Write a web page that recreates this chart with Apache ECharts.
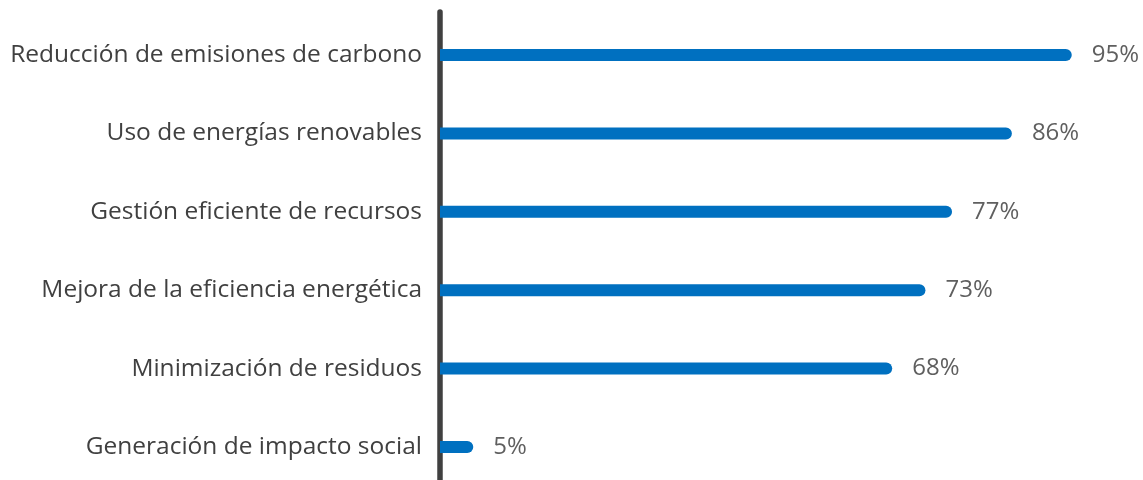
<!DOCTYPE html>
<html>
<head>
<meta charset="utf-8">
<script src="https://cdn.jsdelivr.net/npm/echarts@6/dist/echarts.min.js"></script>
<style>
  html, body { margin: 0; padding: 0; background: #ffffff; }
  #chart { width: 1143px; height: 480px; }
</style>
</head>
<body>
<div id="chart"></div>
<script>
// Sustainability priorities, share of respondents (%)
const categories = [
  'Reducción de emisiones de carbono',
  'Uso de energías renovables',
  'Gestión eficiente de recursos',
  'Mejora de la eficiencia energética',
  'Minimización de residuos',
  'Generación de impacto social'
];
const values = [95, 86, 77, 73, 68, 5];

const FONT = '"Open Sans", "Noto Sans", sans-serif';
const chart = echarts.init(document.getElementById('chart'), null, { renderer: 'canvas' });

chart.setOption({
  animation: false,
  textStyle: { fontFamily: FONT },
  grid: [
    // main plotting area: first and last category sit on the grid edges
    { left: 440, width: 665, top: 55, height: 392, containLabel: false },
    // full-height strip that carries the vertical baseline
    { left: 440, width: 10, top: 12, bottom: 0, containLabel: false }
  ],
  xAxis: [
    { type: 'value', gridIndex: 0, min: 0, max: 100, show: false },
    { type: 'value', gridIndex: 1, min: 0, max: 1, show: false }
  ],
  yAxis: [
    {
      type: 'category',
      gridIndex: 0,
      data: categories,
      inverse: true,
      boundaryGap: false,
      axisLine: { show: false },
      axisTick: { show: false },
      axisLabel: {
        margin: 18,
        fontSize: 24.5,
        color: '#404040',
        fontFamily: FONT
      }
    },
    {
      type: 'value',
      gridIndex: 1,
      min: 0,
      max: 1,
      axisLine: { show: true, onZero: false, lineStyle: { color: '#404040', width: 5.5 } },
      axisTick: { show: false },
      axisLabel: { show: false },
      splitLine: { show: false }
    }
  ],
  series: [{
    type: 'bar',
    xAxisIndex: 0,
    yAxisIndex: 0,
    data: values,
    barWidth: 12,
    z: 1,
    itemStyle: { color: '#0070C0', borderRadius: [0, 6, 6, 0] },
    label: {
      show: true,
      position: 'right',
      distance: 20,
      formatter: '{c}%',
      fontSize: 24,
      color: '#5f5f5f',
      fontFamily: FONT
    }
  }]
});
</script>
</body>
</html>
